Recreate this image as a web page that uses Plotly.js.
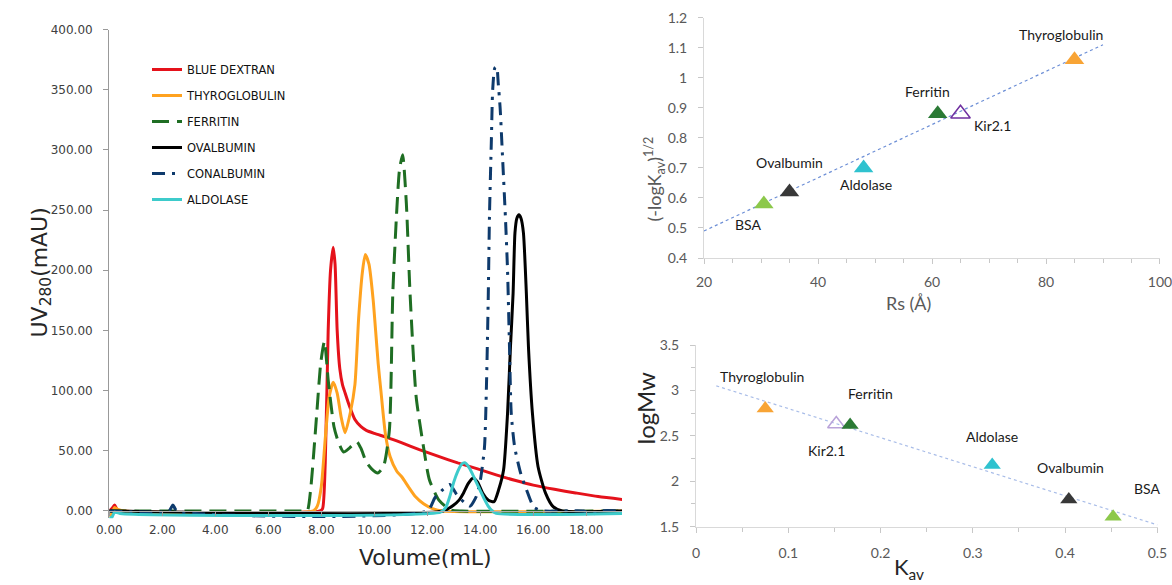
<!DOCTYPE html>
<html>
<head>
<meta charset="utf-8">
<script src="https://cdn.plot.ly/plotly-3.0.1.min.js"></script>
<style>html,body{margin:0;padding:0;background:#fff;}#chart{width:1172px;height:585px;}</style>
</head>
<body>
<div id="chart"></div>
<script>
// ---- Left panel: elution profiles (Volume mL vs UV280 mAU) ----
const seriesNames = ["BLUE DEXTRAN", "THYROGLOBULIN", "FERRITIN", "OVALBUMIN", "CONALBUMIN", "ALDOLASE"];

const blueDextranV  = [0, 0.1, 0.2, 0.3, 0.5, 7.95, 8.05, 8.15, 8.26, 8.35, 8.45, 8.52, 8.6, 8.7, 8.8, 8.9, 9.05, 9.27, 9.5, 9.7, 10.0, 10.5, 11.0, 11.7, 12.4, 13.15, 13.9, 14.6, 15.3, 16.0, 16.8, 17.6, 18.45, 19.4];
const blueDextranUV = [0, 2, 5, 1, 0, 0, 2, 40, 149, 200, 219, 205, 150, 118, 105, 98, 88, 76, 70, 67, 64.5, 61, 57, 51, 45.5, 40, 35, 30, 25.5, 21.5, 18, 15, 12, 9.5];

const thyroglobulinV  = [0, 0.1, 0.2, 0.35, 0.6, 7.7, 7.85, 8.0, 8.15, 8.3, 8.45, 8.6, 8.75, 8.9, 9.1, 9.27, 9.41, 9.55, 9.66, 9.8, 9.96, 10.05, 10.15, 10.25, 10.42, 10.6, 10.85, 11.05, 11.29, 11.55, 11.86, 12.2, 12.6, 19.4];
const thyroglobulinUV = [-5, -2, 3, 1, 0, 0, 4, 20, 60, 95, 107, 98, 78, 65, 82, 105, 160, 198, 213, 205, 175, 150, 122, 100, 64, 45, 33, 28, 20, 12, 6, 2, 0, 0];

const ferritinV  = [0, 7.3, 7.47, 7.6, 7.83, 7.98, 8.12, 8.26, 8.48, 8.65, 8.84, 9.05, 9.34, 9.5, 9.69, 9.9, 10.13, 10.35, 10.57, 10.7, 10.85, 10.95, 11.07, 11.21, 11.35, 11.58, 11.86, 12.08, 12.44, 12.87, 13.3, 19.4];
const ferritinUV = [0, 0, 0, 18, 81, 123, 141, 109, 70, 57, 49, 52, 57.6, 52, 41, 35, 31.5, 37, 67, 181, 250, 283, 296, 256, 181, 95, 53, 26, 9, 1, 0, 0];

const ovalbuminV  = [0, 12.6, 13.0, 13.2, 13.37, 13.55, 13.73, 13.9, 14.09, 14.31, 14.52, 14.7, 14.88, 15.03, 15.14, 15.24, 15.31, 15.38, 15.46, 15.54, 15.63, 15.74, 15.82, 15.97, 16.18, 16.46, 16.75, 17.1, 19.4];
const ovalbuminUV = [0, 0, 5, 9, 15, 23, 27.5, 24, 15, 9, 7.7, 18, 34, 81, 136, 181, 231, 243, 246, 243, 231, 181, 136, 81, 37, 15, 3.6, 0, 0];

const conalbuminV  = [0, 2.25, 2.4, 2.55, 12.0, 12.29, 12.6, 12.85, 13.1, 13.4, 13.62, 13.85, 14.0, 14.16, 14.24, 14.3, 14.35, 14.42, 14.47, 14.55, 14.62, 14.68, 14.75, 14.85, 14.95, 15.03, 15.1, 15.17, 15.3, 15.53, 15.74, 16.03, 16.4, 17.9, 18.2, 18.5, 19.4];
const conalbuminUV = [0, 0, 5, 0, 0, 11, 18, 22, 14, 7, 4, 12, 25, 53, 109, 175, 247, 308, 350, 368, 369, 355, 335, 290, 244, 200, 140, 81, 53, 31, 18, 3, 0, 0, -3, 0, 0];

const aldolaseV  = [0, 0.08, 0.2, 0.4, 12.5, 12.7, 12.85, 13.0, 13.15, 13.3, 13.42, 13.55, 13.7, 13.85, 14.0, 14.15, 14.3, 14.45, 14.6, 19.4];
const aldolaseUV = [-5, -6, -1, -2, -1, 3, 12, 24, 33, 39, 40, 37, 31, 24, 17, 10, 4, 0, -2, -2];

const volumeTicks = [0, 2, 4, 6, 8, 10, 12, 14, 16, 18];
const uvTicks = [0, 50, 100, 150, 200, 250, 300, 350, 400];

// ---- Right panels: calibration ----
const standards = ["Thyroglobulin", "Ferritin", "Aldolase", "Ovalbumin", "BSA"];
const stokesRadius = [85, 61, 48, 35, 30.5];           // Rs (Å)
const sqrtNegLogKav = [1.06, 0.88, 0.70, 0.62, 0.58];  // (-logKav)^1/2
const kav = [0.075, 0.167, 0.321, 0.404, 0.452];
const logMw = [2.80, 2.62, 2.18, 1.80, 1.61];
const kirName = "Kir2.1";
const kirRs = [65], kirSqrt = [0.88], kirKav = [0.152], kirLogMw = [2.63];
const fitRsX = [20, 90], fitRsY = [0.49, 1.11];
const fitKavX = [0.022, 0.5], fitKavY = [3.05, 1.52];
const rsTicks = [20, 40, 60, 80, 100];
const kavTicks = [0, 0.1, 0.2, 0.3, 0.4, 0.5];

// ---- Styles ----
const lineColors = ["#e5121b", "#ffa21f", "#1f6e23", "#000000", "#0e3a6c", "#3dcbcb"];
const lineDashes = ["solid", "solid", "17px,8px", "solid", "13px,7px,3px,7px", "solid"];
const markerColors = ["#f8a435", "#2b7a35", "#2fc2cf", "#383838", "#8cc84b"];

const seriesX = [blueDextranV, thyroglobulinV, ferritinV, ovalbuminV, conalbuminV, aldolaseV];
const seriesY = [blueDextranUV, thyroglobulinUV, ferritinUV, ovalbuminUV, conalbuminUV, aldolaseUV];

const traces = seriesNames.map((n, i) => ({
  type: "scatter", mode: "lines", name: n, x: seriesX[i], y: seriesY[i],
  xaxis: "x", yaxis: "y", legendgroup: "g" + i,
  line: {color: lineColors[i], width: 3, dash: lineDashes[i], shape: "spline", smoothing: 0.6},
  hoverinfo: "skip"
}));

// top right
traces.push({type: "scatter", mode: "lines", x: fitRsX, y: fitRsY, xaxis: "x2", yaxis: "y2",
  line: {color: "#6d8fd6", width: 1.2, dash: "dot"}, showlegend: false, hoverinfo: "skip"});
traces.push({type: "scatter", mode: "markers", x: stokesRadius, y: sqrtNegLogKav, xaxis: "x2", yaxis: "y2",
  marker: {symbol: "triangle-up", size: 17, color: markerColors, line: {width: 0}}, showlegend: false, hoverinfo: "skip"});
traces.push({type: "scatter", mode: "markers", x: kirRs, y: kirSqrt, xaxis: "x2", yaxis: "y2",
  marker: {symbol: "triangle-up-open", size: 17, color: "#7030a0", line: {width: 1.5, color: "#7030a0"}}, showlegend: false, hoverinfo: "skip"});

// bottom right
traces.push({type: "scatter", mode: "lines", x: fitKavX, y: fitKavY, xaxis: "x3", yaxis: "y3",
  line: {color: "#a9bde8", width: 1.2, dash: "dot"}, showlegend: false, hoverinfo: "skip"});
traces.push({type: "scatter", mode: "markers", x: kirKav, y: kirLogMw, xaxis: "x3", yaxis: "y3",
  marker: {symbol: "triangle-up-open", size: 15, color: "#b9a3d9", line: {width: 1.5, color: "#b9a3d9"}}, showlegend: false, hoverinfo: "skip"});
traces.push({type: "scatter", mode: "markers", x: kav, y: logMw, xaxis: "x3", yaxis: "y3",
  marker: {symbol: "triangle-up", size: 15, color: markerColors, line: {width: 0}}, showlegend: false, hoverinfo: "skip"});

// point labels via pixel shifts from each point
const labelFont = {family: "Lato, 'Open Sans', sans-serif", size: 14, color: "#1a1a1a"};
const topShifts = [[-14, 25], [-10, 22], [2, -17], [0, 29], [-16, -21]];
const botShifts = [[-3, 32], [20, 31], [0, 28], [2, 32], [34, 28]];
const annotations = [];
standards.forEach((s, i) => {
  annotations.push({xref: "x2", yref: "y2", x: stokesRadius[i], y: sqrtNegLogKav[i], text: s, showarrow: false,
    xshift: topShifts[i][0], yshift: topShifts[i][1], font: labelFont});
  annotations.push({xref: "x3", yref: "y3", x: kav[i], y: logMw[i], text: s, showarrow: false,
    xshift: botShifts[i][0], yshift: botShifts[i][1], font: labelFont});
});
annotations.push({xref: "x2", yref: "y2", x: kirRs[0], y: kirSqrt[0], text: kirName, showarrow: false, xshift: 32, yshift: -12, font: labelFont});
annotations.push({xref: "x3", yref: "y3", x: kirKav[0], y: kirLogMw[0], text: kirName, showarrow: false, xshift: -10, yshift: -26, font: labelFont});

// axis titles as text
const W = 1172, H = 585;
const px = v => v / W, py = v => (H - v) / H;
annotations.push({xref: "paper", yref: "paper", x: px(24), y: py(273), text: "UV<sub>280</sub>(mAU)", textangle: -90, showarrow: false,
  font: {family: "'DejaVu Sans', Verdana, sans-serif", size: 22, color: "#262626"}});
annotations.push({xref: "paper", yref: "paper", x: px(425), y: py(572), text: "Volume(mL)", showarrow: false,
  font: {family: "'DejaVu Sans', Verdana, sans-serif", size: 22, color: "#262626"}});
annotations.push({xref: "paper", yref: "paper", x: px(655), y: py(135), text: "(-logK<sub>av</sub>)<sup>1/2</sup>", textangle: -90, showarrow: false,
  font: {family: "Lato, sans-serif", size: 18, color: "#595959"}});
annotations.push({xref: "paper", yref: "paper", x: px(933), y: py(303), text: "Rs (Å)", showarrow: false,
  font: {family: "Lato, sans-serif", size: 18, color: "#595959"}});
annotations.push({xref: "paper", yref: "paper", x: px(645), y: py(447), text: "logMw", textangle: -90, showarrow: false,
  font: {family: "Lato, sans-serif", size: 24, color: "#262626"}});
annotations.push({xref: "paper", yref: "paper", x: px(926), y: py(584.5), yanchor: "bottom", text: "K<sub>av</sub>", showarrow: false,
  font: {family: "Lato, sans-serif", size: 22, color: "#262626"}});

const leftTickFont = {family: "'DejaVu Sans', Verdana, sans-serif", size: 12, color: "#404040"};
const rightTickFont = {family: "Lato, sans-serif", size: 14, color: "#595959"};

const layout = {
  width: W, height: H,
  margin: {l: 0, r: 0, t: 0, b: 0},
  paper_bgcolor: "#ffffff", plot_bgcolor: "rgba(0,0,0,0)",
  showlegend: true,
  legend: {x: px(147), y: py(55), xanchor: "left", yanchor: "top", traceorder: "grouped", tracegroupgap: 7,
    bgcolor: "rgba(0,0,0,0)", font: {family: "'DejaVu Sans', Tahoma, sans-serif", size: 11.5, color: "#111"}},
  xaxis: {domain: [px(109.3), px(622)], range: [0, 19.35], anchor: "free", position: py(511),
    tickvals: volumeTicks, tickformat: ".2f", ticks: "outside", ticklen: 4, tickcolor: "#999",
    showline: true, linecolor: "#b0b0b0", linewidth: 1, showgrid: false, zeroline: false,
    tickfont: leftTickFont, ticklabelstandoff: 4},
  yaxis: {domain: [py(518.2), py(29.5)], range: [-6, 400], anchor: "x",
    tickvals: uvTicks, tickformat: ".2f", ticks: "outside", ticklen: 5, tickcolor: "#999",
    showline: true, linecolor: "#999", linewidth: 1.2, showgrid: false, zeroline: false,
    tickfont: leftTickFont, ticklabelstandoff: 8},
  xaxis2: {domain: [px(704), px(1160)], range: [20, 100.001], anchor: "y2", tickvals: rsTicks,
    ticks: "outside", ticklen: 5, tickcolor: "#c8c8c8", showline: true, linecolor: "#d9d9d9",
    showgrid: false, zeroline: false, tickfont: rightTickFont, ticklabelstandoff: 6, ticklabeloverflow: "allow",
    minor: {dtick: 5, ticks: "outside", ticklen: 4, tickcolor: "#c8c8c8"}},
  yaxis2: {domain: [py(258), py(17.7)], range: [0.4, 1.2], anchor: "x2", dtick: 0.1,
    ticks: "outside", ticklen: 5, tickcolor: "#c8c8c8", showline: true, linecolor: "#d9d9d9",
    showgrid: false, zeroline: false, tickfont: rightTickFont, ticklabelstandoff: 8},
  xaxis3: {domain: [px(696), px(1157.5)], range: [0, 0.5001], anchor: "y3", tickvals: kavTicks,
    ticks: "outside", ticklen: 5, tickcolor: "#c8c8c8", showline: true, linecolor: "#d9d9d9",
    showgrid: false, zeroline: false, tickfont: rightTickFont, ticklabelstandoff: 8, ticklabeloverflow: "allow",
    minor: {dtick: 0.05, ticks: "outside", ticklen: 4, tickcolor: "#c8c8c8"}},
  yaxis3: {domain: [py(526.7), py(345)], range: [1.5, 3.5], anchor: "x3", dtick: 0.5,
    ticks: "outside", ticklen: 5, tickcolor: "#c8c8c8", showline: true, linecolor: "#d9d9d9",
    showgrid: false, zeroline: false, tickfont: rightTickFont, ticklabelstandoff: 8,
    minor: {dtick: 0.25, ticks: "outside", ticklen: 4, tickcolor: "#c8c8c8"}},
  annotations: annotations
};

Plotly.newPlot("chart", traces, layout, {staticPlot: true, displayModeBar: false});
</script>
</body>
</html>
